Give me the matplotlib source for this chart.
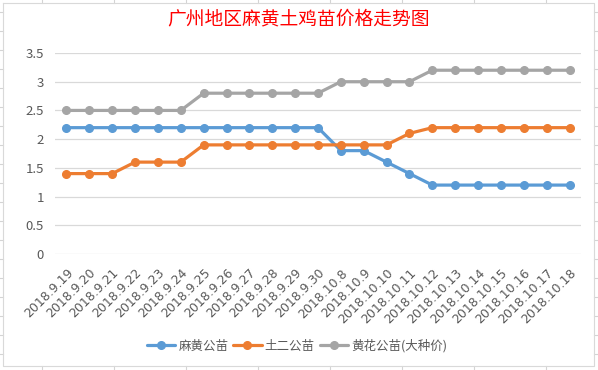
import matplotlib
matplotlib.use('Agg')
import matplotlib.pyplot as plt
from matplotlib.lines import Line2D

plt.rcParams['font.family'] = ['Noto Sans CJK SC', 'DejaVu Sans']

dates = ['2018.9.19', '2018.9.20', '2018.9.21', '2018.9.22', '2018.9.23', '2018.9.24',
         '2018.9.25', '2018.9.26', '2018.9.27', '2018.9.28', '2018.9.29', '2018.9.30',
         '2018.10.8', '2018.10.9', '2018.10.10', '2018.10.11', '2018.10.12', '2018.10.13',
         '2018.10.14', '2018.10.15', '2018.10.16', '2018.10.17', '2018.10.18']
mahuang = [2.2, 2.2, 2.2, 2.2, 2.2, 2.2, 2.2, 2.2, 2.2, 2.2, 2.2, 2.2,
           1.8, 1.8, 1.6, 1.4, 1.2, 1.2, 1.2, 1.2, 1.2, 1.2, 1.2]
tuer = [1.4, 1.4, 1.4, 1.6, 1.6, 1.6, 1.9, 1.9, 1.9, 1.9, 1.9, 1.9,
        1.9, 1.9, 1.9, 2.1, 2.2, 2.2, 2.2, 2.2, 2.2, 2.2, 2.2]
huanghua = [2.5, 2.5, 2.5, 2.5, 2.5, 2.5, 2.8, 2.8, 2.8, 2.8, 2.8, 2.8,
            3.0, 3.0, 3.0, 3.0, 3.2, 3.2, 3.2, 3.2, 3.2, 3.2, 3.2]
series_names = ['麻黄公苗', '土二公苗', '黄花公苗(大种价)']
yticks = [0, 0.5, 1, 1.5, 2, 2.5, 3, 3.5]
ytick_labels = ['0', '0.5', '1', '1.5', '2', '2.5', '3', '3.5']

colors = ['#5B9BD5', '#ED7D31', '#A5A5A5']
W, H = 598, 370
fig = plt.figure(figsize=(W / 100, H / 100), dpi=100)
fig.patch.set_facecolor('white')

# spreadsheet cell lines around the chart
cell = '#D4D4D4'
for x in [42, 114, 186, 258, 330, 402, 474, 546]:
    fig.add_artist(Line2D([x / W, x / W], [1 - 0 / H, 1 - 3 / H], color=cell, lw=0.8))
    fig.add_artist(Line2D([x / W, x / W], [1 - 366 / H, 0], color=cell, lw=0.8))
for y in range(12, 370, 19):
    fig.add_artist(Line2D([0, 3 / W], [1 - y / H, 1 - y / H], color=cell, lw=0.8))
    fig.add_artist(Line2D([594 / W, 1], [1 - y / H, 1 - y / H], color=cell, lw=0.8))
# chart border
bx = [3, 594, 594, 3, 3]
by = [3, 3, 366, 366, 3]
fig.add_artist(Line2D([v / W for v in bx], [1 - v / H for v in by], color='#D9D9D9', lw=0.8))

ax = fig.add_axes([55 / W, 1 - 254 / H, 526 / W, 201 / H])
x = list(range(len(dates)))
for vals, c, name in zip([mahuang, tuer, huanghua], colors, series_names):
    ax.plot(x, vals, color=c, lw=2.3, marker='o', markersize=5.5, label=name,
            solid_capstyle='round', zorder=3)

ax.set_xlim(-0.5, len(dates) - 0.5)
ax.set_ylim(0, 3.5)
ax.set_yticks(yticks)
ax.set_yticklabels(ytick_labels)
ax.set_xticks(x)
ax.set_xticklabels(dates, rotation=45, ha='right', va='top', rotation_mode='anchor')
ax.tick_params(axis='y', length=0, pad=8, labelsize=9.5, labelcolor='#595959')
ax.tick_params(axis='x', length=0, pad=9, labelsize=9, labelcolor='#595959')
for lab in ax.get_xticklabels():
    lab.set_fontfamily(['DejaVu Sans'])
ax.grid(axis='y', color='#D9D9D9', lw=0.9)
ax.set_axisbelow(True)
for s in ax.spines.values():
    s.set_visible(False)

fig.text(298 / W, 1 - 19 / H, '广州地区麻黄土鸡苗价格走势图', color='red', fontsize=13.5,
         ha='center', va='center')

leg = fig.legend(loc='center', bbox_to_anchor=(297 / W, 1 - 346 / H), ncol=3, frameon=False,
                 fontsize=9, handlelength=2.25, handletextpad=0.25, columnspacing=0.4)
for t in leg.get_texts():
    t.set_color('#595959')

fig.savefig('out.png', dpi=100)
